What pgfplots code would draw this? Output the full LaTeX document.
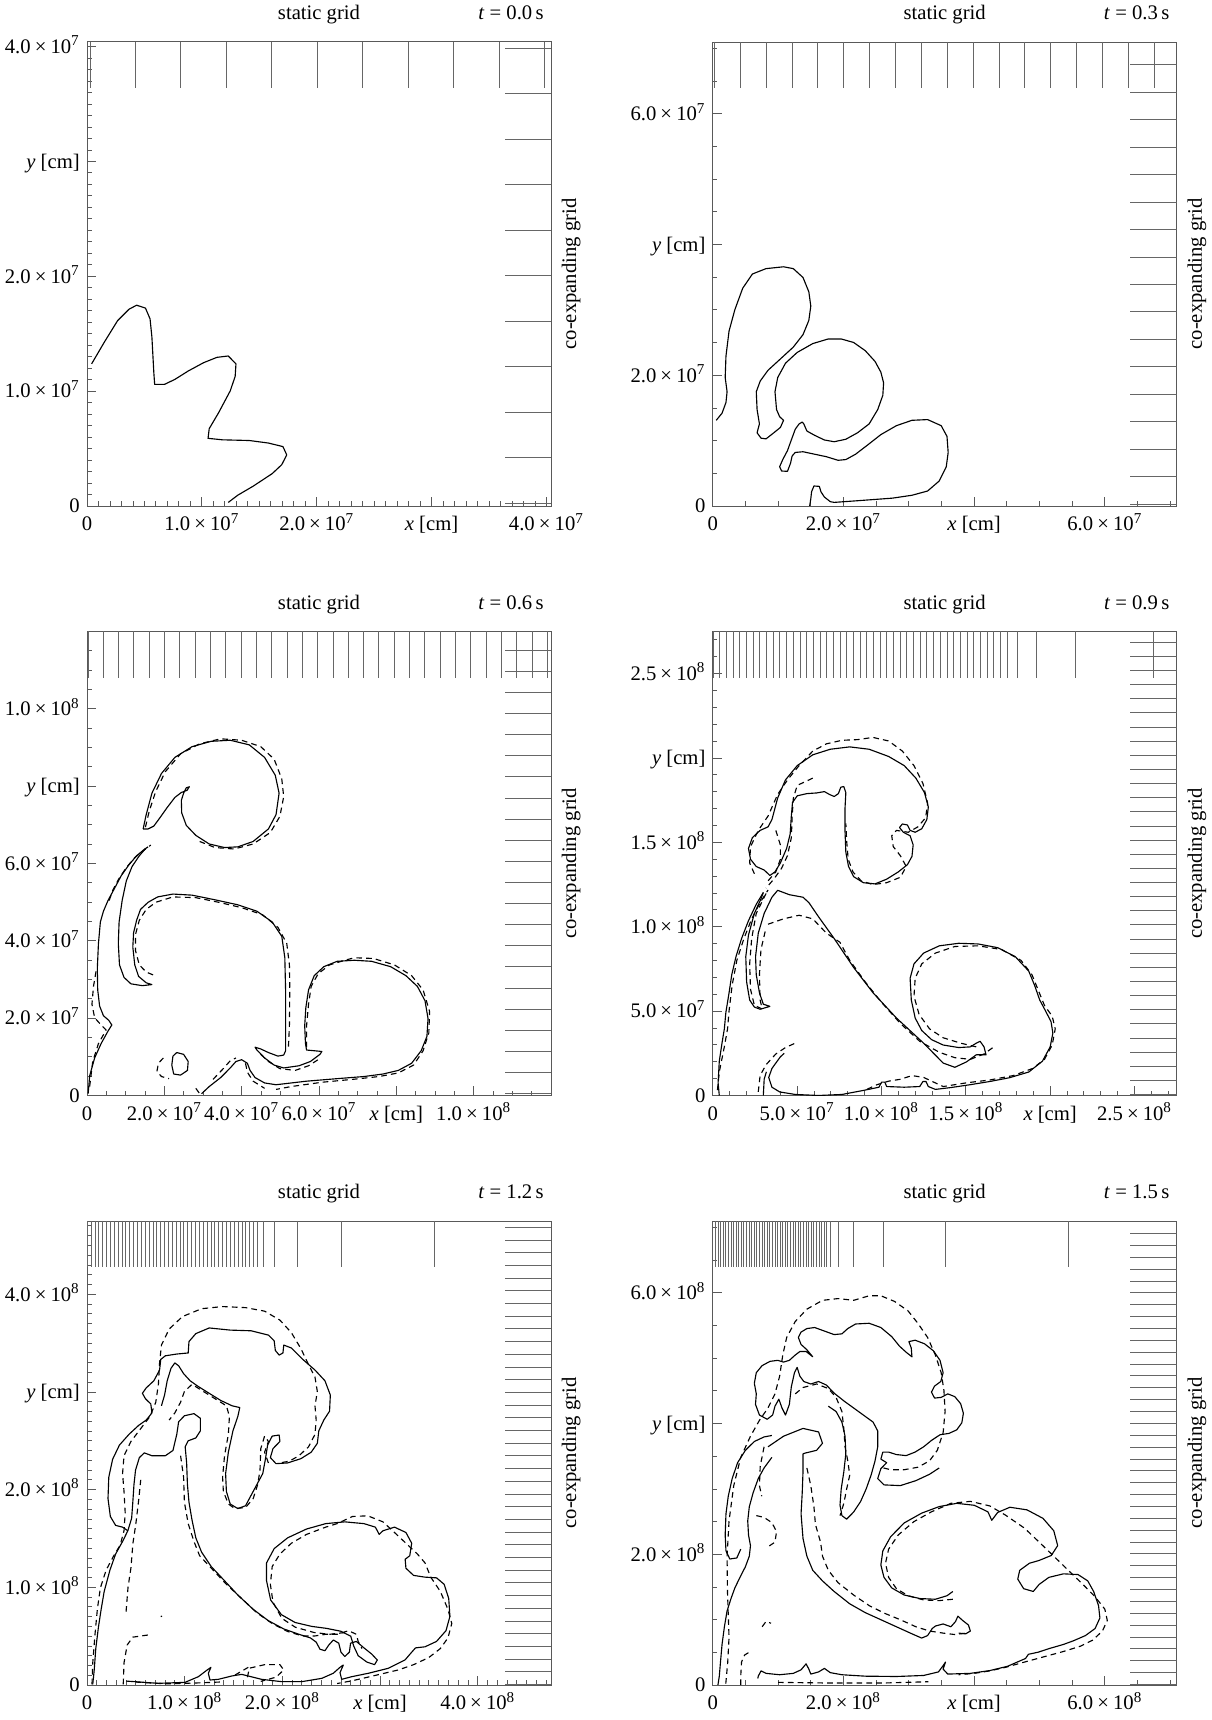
\documentclass[border=0pt,11pt]{standalone}
\usepackage{fontspec}
\setmainfont{Liberation Serif}
\usepackage{pgfplots}
\pgfplotsset{compat=1.18}

% mantissa x 10^exponent, set in the text font
\newcommand{\sci}[2]{#1\kern0.2em×\kern0.2em10\textsuperscript{#2}}

\pgfplotsset{
  panel/.style={
    scale only axis, width=245.92pt, height=245.92pt,
    anchor=south west, xmin=0, ymin=0,
    axis line style={line width=0.5pt, black!65},
    tick align=inside, xtick pos=bottom, ytick pos=left,
    major tick length=5pt, minor tick length=2.5pt,
    tick style={line width=0.45pt, black!65},
    xticklabel style={anchor=base, yshift=-13pt},
    yticklabel style={anchor=base east, yshift=-3.6pt},
  },
  gridline/.style={line width=0.5pt, black!60},
  contour/.style={black, line width=0.6pt, line join=round},
  contourd/.style={contour, dash pattern=on 3pt off 2.2pt},
  heads/.style 2 args={extra description/.code={
      \node[anchor=base, yshift=11.7pt] at (0.5,1) {static grid};
      \node[anchor=base east, yshift=11.7pt] at (1,1) {\textit{t} = #1\,s};
      \node[rotate=90, anchor=north, inner sep=0pt] at ([xshift=5.5pt]1,0.5) {co-expanding grid};
  }},
}

\begin{document}
\begin{tikzpicture}
\path[use as bounding box] (0,0) rectangle (641.83pt,911.6pt);

% ---------------- t = 0.0 s  (coordinates in 10^7 cm)
\begin{axis}[panel, heads={0.0}{}, at={(46.11pt,643.42pt)}, xmax=4.04, ymax=4.04,
  xtick={0,1,2,3,4}, xticklabels={0,\sci{1.0}{7},\sci{2.0}{7},\textit{x} [cm],\sci{4.0}{7}},
  ytick={0,1,2,3,4}, yticklabels={0,\sci{1.0}{7},\sci{2.0}{7},\textit{y} [cm],\sci{4.0}{7}},
  minor xtick={0,0.1,...,4.0}, minor ytick={0,0.1,...,4.0}]
\addplot[gridline, quiver={u=0,v=-0.404}] coordinates {
 (0.026,4.04) (0.422,4.04) (0.818,4.04) (1.214,4.04) (1.610,4.04) (2.006,4.04)
 (2.402,4.04) (2.798,4.04) (3.194,4.04) (3.590,4.04) (3.986,4.04)};
\addplot[gridline, quiver={u=-0.404,v=0}] coordinates {
 (4.04,0.026) (4.04,0.422) (4.04,0.818) (4.04,1.214) (4.04,1.610) (4.04,2.006)
 (4.04,2.402) (4.04,2.798) (4.04,3.194) (4.04,3.590) (4.04,3.986)};
\addplot[contour] coordinates {
 (0.040,1.237) (0.150,1.425) (0.266,1.613) (0.366,1.713) (0.432,1.748) (0.509,1.723)
 (0.549,1.629) (0.565,1.472) (0.582,1.159) (0.589,1.059) (0.675,1.059) (0.765,1.102)
 (0.881,1.175) (1.014,1.247) (1.131,1.294) (1.230,1.306) (1.297,1.237) (1.290,1.128)
 (1.247,1.002) (1.147,0.814) (1.064,0.673) (1.054,0.589) (1.180,0.576) (1.413,0.570)
 (1.579,0.548) (1.706,0.517) (1.739,0.445) (1.696,0.360) (1.613,0.282) (1.446,0.172)
 (1.313,0.094) (1.230,0.031)};
\end{axis}

% ---------------- t = 0.3 s  (coordinates in 10^7 cm)
\begin{axis}[panel, heads={0.3}{}, at={(377.73pt,643.42pt)}, xmax=7.1, ymax=7.1,
  xtick={0,2,4,6}, xticklabels={0,\sci{2.0}{7},\textit{x} [cm],\sci{6.0}{7}},
  ytick={0,2,4,6}, yticklabels={0,\sci{2.0}{7},\textit{y} [cm],\sci{6.0}{7}},
  minor xtick={0,0.5,...,7.0}, minor ytick={0,0.5,...,7.0}]
\addplot[gridline, quiver={u=0,v=-0.71}] coordinates {
 (0.026,7.1) (0.422,7.1) (0.818,7.1) (1.214,7.1) (1.610,7.1) (2.006,7.1) (2.402,7.1)
 (2.798,7.1) (3.194,7.1) (3.590,7.1) (3.986,7.1) (4.382,7.1) (4.778,7.1) (5.174,7.1)
 (5.570,7.1) (5.966,7.1) (6.362,7.1) (6.758,7.1)};
\addplot[gridline, quiver={u=-0.71,v=0}] coordinates {
 (7.1,0.03) (7.1,0.45) (7.1,0.87) (7.1,1.29) (7.1,1.71) (7.1,2.13) (7.1,2.55) (7.1,2.97)
 (7.1,3.39) (7.1,3.81) (7.1,4.23) (7.1,4.65) (7.1,5.07) (7.1,5.49) (7.1,5.91) (7.1,6.33) (7.1,6.75)};
\addplot[contour] coordinates {
 (0.054,1.311) (0.143,1.420) (0.203,1.584) (0.220,1.748) (0.191,1.966) (0.203,2.294)
 (0.250,2.676) (0.339,3.004) (0.459,3.332) (0.608,3.550) (0.816,3.632) (1.084,3.660)
 (1.233,3.632) (1.382,3.496) (1.471,3.277) (1.501,3.059) (1.471,2.840) (1.382,2.622)
 (1.233,2.431) (1.024,2.239) (0.846,2.076) (0.727,1.912) (0.667,1.748) (0.679,1.475)
 (0.715,1.256) (0.679,1.120) (0.739,1.038) (0.816,1.027) (0.935,1.120) (1.036,1.202)
 (1.084,1.311) (1.024,1.366) (0.977,1.475) (0.953,1.748) (0.995,1.966) (1.114,2.185)
 (1.292,2.349) (1.531,2.485) (1.769,2.556) (1.965,2.556) (2.156,2.502) (2.335,2.376)
 (2.484,2.212) (2.573,2.048) (2.615,1.884) (2.603,1.693) (2.525,1.475) (2.394,1.256)
 (2.216,1.120) (2.037,1.021) (1.858,0.983) (1.709,1.010) (1.560,1.081) (1.441,1.147)
 (1.394,1.256) (1.370,1.284) (1.322,1.256) (1.263,1.174) (1.203,1.010) (1.144,0.847)
 (1.072,0.710) (1.024,0.601) (1.054,0.535) (1.144,0.530) (1.191,0.655) (1.215,0.765)
 (1.263,0.819) (1.382,0.830) (1.560,0.792) (1.739,0.754) (1.918,0.699) (2.037,0.710)
 (2.186,0.792) (2.365,0.929) (2.573,1.092) (2.811,1.229) (3.049,1.311) (3.288,1.322)
 (3.496,1.229) (3.585,1.065) (3.603,0.819) (3.574,0.601) (3.466,0.382) (3.288,0.229)
 (3.049,0.164) (2.752,0.120) (2.454,0.098) (2.156,0.076) (1.858,0.055) (1.799,0.066)
 (1.709,0.137) (1.656,0.218) (1.632,0.300) (1.549,0.306) (1.513,0.218) (1.501,0.109)
 (1.483,0.000)};
\end{axis}

% ---------------- t = 0.6 s  (coordinates in 10^7 cm)
\begin{axis}[panel, heads={0.6}{}, at={(46.11pt,330.99pt)}, xmax=12, ymax=12,
  xtick={0,2,4,6,8,10}, xticklabels={0,\sci{2.0}{7},\sci{4.0}{7},\sci{6.0}{7},\textit{x} [cm],\sci{1.0}{8}},
  ytick={0,2,4,6,8,10}, yticklabels={0,\sci{2.0}{7},\sci{4.0}{7},\sci{6.0}{7},\textit{y} [cm],\sci{1.0}{8}},
  minor xtick={0,0.5,...,12}, minor ytick={0,0.5,...,12}]
\addplot[gridline, quiver={u=0,v=-1.2}] coordinates {
 (0.026,12) (0.422,12) (0.818,12) (1.214,12) (1.610,12) (2.006,12) (2.402,12) (2.798,12)
 (3.194,12) (3.590,12) (3.986,12) (4.382,12) (4.778,12) (5.174,12) (5.570,12) (5.966,12)
 (6.362,12) (6.758,12) (7.154,12) (7.550,12) (7.946,12) (8.342,12) (8.738,12) (9.134,12)
 (9.530,12) (9.926,12) (10.322,12) (10.718,12) (11.114,12) (11.510,12) (11.906,12)};
\addplot[gridline, quiver={u=-1.2,v=0}] coordinates {
 (12,0.05) (12,0.596) (12,1.142) (12,1.688) (12,2.234) (12,2.78) (12,3.326) (12,3.872)
 (12,4.418) (12,4.964) (12,5.51) (12,6.056) (12,6.602) (12,7.148) (12,7.694) (12,8.24)
 (12,8.786) (12,9.332) (12,9.878) (12,10.424) (12,10.97) (12,11.516)};
% head
\addplot[contour] coordinates {
 (1.452,6.893) (1.531,7.263) (1.679,7.818) (1.926,8.327) (2.272,8.743) (2.716,9.021)
 (3.210,9.159) (3.704,9.187) (4.198,9.067) (4.593,8.743) (4.869,8.281) (4.968,7.818)
 (4.889,7.263) (4.692,6.893) (4.296,6.569) (3.901,6.430) (3.556,6.412) (3.161,6.504)
 (2.815,6.726) (2.568,6.985) (2.449,7.309) (2.440,7.633) (2.499,7.818) (2.568,7.957)
 (2.647,7.984) (2.588,7.892) (2.440,7.836) (2.272,7.707) (2.074,7.448) (1.877,7.170)
 (1.728,6.967) (1.580,6.893) (1.452,6.893)};
\addplot[contourd] coordinates {
 (1.511,6.939) (1.610,7.356) (1.778,7.864) (2.025,8.373) (2.420,8.836) (2.914,9.095)
 (3.457,9.224) (4.000,9.187) (4.494,9.021) (4.840,8.697) (5.037,8.188) (5.087,7.726)
 (4.988,7.217) (4.741,6.800) (4.296,6.504) (3.803,6.374) (3.309,6.412) (2.914,6.569)};
% outer left boundary
\addplot[contour] coordinates {
 (0.030,0.046) (0.069,0.509) (0.198,0.971) (0.365,1.342) (0.543,1.665) (0.642,1.823)
 (0.563,1.943) (0.425,2.063) (0.326,2.313) (0.277,2.729) (0.267,3.284) (0.296,3.932)
 (0.346,4.487) (0.425,4.765) (0.543,5.042) (0.642,5.227) (0.741,5.412) (0.889,5.690)
 (1.086,5.968) (1.284,6.199) (1.482,6.365) (1.580,6.430)};
\addplot[contourd] coordinates {
 (0.069,0.231) (0.148,0.879) (0.296,1.342) (0.494,1.693) (0.365,1.823) (0.198,2.008)
 (0.128,2.359) (0.168,2.822) (0.247,3.284)};
\addplot[contourd] coordinates {
 (0.573,5.042) (0.672,5.320) (0.820,5.597) (1.017,5.893) (1.235,6.153) (1.491,6.356) (1.649,6.476)};
% finger, stem, bubble and base
\addplot[contour] coordinates {
 (1.511,6.384) (1.353,6.199) (1.165,5.921) (1.017,5.551) (0.909,5.042) (0.830,4.487)
 (0.810,3.932) (0.840,3.377) (0.958,3.053) (1.136,2.887) (1.432,2.840) (1.679,2.868)
 (1.531,2.914) (1.333,3.081) (1.235,3.377) (1.185,3.840) (1.205,4.210) (1.284,4.533)
 (1.383,4.811) (1.580,4.996) (1.827,5.135) (2.222,5.209) (2.716,5.181) (3.309,5.061)
 (3.901,4.931) (4.395,4.765) (4.790,4.487) (5.037,4.117) (5.116,3.562) (5.136,2.729)
 (5.136,1.804) (5.136,1.157) (5.087,1.045) (4.938,1.018) (4.692,1.110) (4.494,1.203)
 (4.346,1.249) (4.395,1.175) (4.593,0.971) (4.840,0.786) (5.087,0.712) (5.482,0.768)
 (5.778,0.879) (6.025,1.064) (6.074,1.138) (5.877,1.157) (5.679,1.175) (5.650,1.342)
 (5.630,1.804) (5.659,2.267) (5.729,2.729) (5.877,3.099) (6.124,3.331) (6.469,3.470)
 (6.914,3.497) (7.358,3.470) (7.852,3.331) (8.247,3.099) (8.544,2.822) (8.741,2.452)
 (8.820,1.989) (8.791,1.527) (8.642,1.157) (8.395,0.833) (8.050,0.648) (7.655,0.555)
 (7.161,0.490) (6.469,0.435) (5.679,0.370) (4.889,0.278) (4.593,0.324) (4.346,0.463)
 (4.217,0.648) (4.148,0.833) (4.000,0.925) (3.852,0.879) (3.704,0.712) (3.457,0.463)
 (3.161,0.231) (2.963,0.046)};
\addplot[contourd] coordinates {
 (1.709,3.118) (1.531,3.192) (1.353,3.377) (1.254,3.747) (1.254,4.163) (1.353,4.533)
 (1.531,4.811) (1.778,4.996) (2.222,5.135) (2.815,5.116) (3.408,4.996) (4.000,4.857)
 (4.543,4.672) (4.938,4.348) (5.166,3.932) (5.235,3.377) (5.245,2.729) (5.235,1.804) (5.205,1.157)};
\addplot[contourd] coordinates {
 (4.494,1.064) (4.692,0.879) (4.988,0.694) (5.383,0.648) (5.729,0.768) (5.976,0.925)};
\addplot[contourd] coordinates {
 (5.679,1.249) (5.679,1.804) (5.729,2.359) (5.798,2.822) (5.976,3.146) (6.272,3.377)
 (6.667,3.497) (6.914,3.562) (7.408,3.543) (7.951,3.377) (8.395,3.099) (8.692,2.729)
 (8.860,2.174) (8.840,1.619) (8.692,1.157) (8.445,0.786) (8.050,0.583) (7.556,0.490)
 (6.864,0.416) (6.074,0.342) (5.284,0.231) (4.889,0.157)};
\addplot[contourd] coordinates {(2.815,0.185) (2.914,0.046)};
\addplot[contourd] coordinates {(3.259,0.416) (3.506,0.675) (3.704,0.897) (3.852,0.971)};
\addplot[contourd] coordinates {(4.099,0.833) (4.148,0.601) (4.296,0.370) (4.593,0.185)};
% small blob
\addplot[contour] coordinates {
 (2.321,1.110) (2.499,1.064) (2.617,0.879) (2.598,0.648) (2.420,0.527) (2.242,0.555)
 (2.193,0.786) (2.222,1.018) (2.321,1.110)};
\addplot[contourd] coordinates {
 (1.975,0.971) (1.847,0.833) (1.808,0.620) (1.926,0.490) (2.123,0.435)};
\end{axis}

% ---------------- t = 0.9 s  (coordinates in 10^8 cm)
\begin{axis}[panel, heads={0.9}{}, at={(377.73pt,330.99pt)}, xmax=2.75, ymax=2.75,
  xtick={0,0.5,1,1.5,2,2.5}, xticklabels={0,\sci{5.0}{7},\sci{1.0}{8},\sci{1.5}{8},\textit{x} [cm],\sci{2.5}{8}},
  ytick={0,0.5,1,1.5,2,2.5}, yticklabels={0,\sci{5.0}{7},\sci{1.0}{8},\sci{1.5}{8},\textit{y} [cm],\sci{2.5}{8}},
  minor xtick={0,0.1,...,2.7}, minor ytick={0,0.1,...,2.7}]
\addplot[gridline, quiver={u=0,v=-0.275}] coordinates {
 (0.0026,2.75) (0.0422,2.75) (0.0818,2.75) (0.1214,2.75) (0.1610,2.75) (0.2006,2.75)
 (0.2402,2.75) (0.2798,2.75) (0.3194,2.75) (0.3590,2.75) (0.3986,2.75) (0.4382,2.75)
 (0.4778,2.75) (0.5174,2.75) (0.5570,2.75) (0.5966,2.75) (0.6362,2.75) (0.6758,2.75)
 (0.7154,2.75) (0.7550,2.75) (0.7946,2.75) (0.8342,2.75) (0.8738,2.75) (0.9134,2.75)
 (0.9530,2.75) (0.9926,2.75) (1.0322,2.75) (1.0718,2.75) (1.1114,2.75) (1.1510,2.75)
 (1.1906,2.75) (1.2302,2.75) (1.2698,2.75) (1.3094,2.75) (1.3490,2.75) (1.3886,2.75)
 (1.4282,2.75) (1.4678,2.75) (1.5074,2.75) (1.5470,2.75) (1.5866,2.75) (1.6262,2.75)
 (1.6658,2.75) (1.7054,2.75) (1.7450,2.75) (1.805,2.75) (1.92,2.75) (2.15,2.75) (2.61,2.75)};
\addplot[gridline, quiver={u=-0.275,v=0}] coordinates {
 (2.75,0.005) (2.75,0.0888) (2.75,0.1726) (2.75,0.2564) (2.75,0.3402) (2.75,0.424)
 (2.75,0.5078) (2.75,0.5916) (2.75,0.6754) (2.75,0.7592) (2.75,0.843) (2.75,0.9268)
 (2.75,1.0106) (2.75,1.0944) (2.75,1.1782) (2.75,1.262) (2.75,1.3458) (2.75,1.4296)
 (2.75,1.5134) (2.75,1.5972) (2.75,1.681) (2.75,1.7648) (2.75,1.8486) (2.75,1.9324)
 (2.75,2.0162) (2.75,2.1) (2.75,2.1838) (2.75,2.2676) (2.75,2.3514) (2.75,2.4352)
 (2.75,2.519) (2.75,2.6028) (2.75,2.6866)};
% head
\addplot[contour] coordinates {
 (0.305,1.336) (0.258,1.357) (0.224,1.400) (0.212,1.464) (0.235,1.528) (0.281,1.571)
 (0.328,1.592) (0.351,1.635) (0.385,1.763) (0.431,1.870) (0.501,1.955) (0.593,2.019)
 (0.697,2.052) (0.812,2.066) (0.927,2.052) (1.043,2.009) (1.135,1.955) (1.204,1.881)
 (1.255,1.795) (1.278,1.710) (1.269,1.635) (1.239,1.581) (1.200,1.560) (1.170,1.571)
 (1.154,1.603) (1.124,1.609) (1.107,1.588) (1.130,1.560) (1.170,1.539) (1.188,1.485)
 (1.181,1.417) (1.154,1.368) (1.100,1.325) (1.031,1.282) (0.962,1.254) (0.893,1.261)
 (0.835,1.297) (0.805,1.357) (0.789,1.442) (0.784,1.571) (0.784,1.699) (0.789,1.795)
 (0.777,1.831) (0.759,1.827) (0.745,1.789) (0.720,1.772) (0.692,1.784) (0.662,1.801)
 (0.616,1.793) (0.558,1.789) (0.501,1.776) (0.473,1.737) (0.466,1.656) (0.459,1.549)
 (0.438,1.464) (0.401,1.378) (0.369,1.325) (0.339,1.304) (0.305,1.336)};
\addplot[contourd] coordinates {
 (0.247,1.314) (0.219,1.378) (0.224,1.474) (0.270,1.571) (0.328,1.656) (0.385,1.784)
 (0.443,1.870) (0.512,1.955) (0.593,2.041) (0.674,2.084) (0.766,2.105) (0.858,2.109)
 (0.950,2.122) (1.043,2.101) (1.124,2.041) (1.193,1.955) (1.246,1.849) (1.274,1.731)
 (1.262,1.646) (1.216,1.592) (1.159,1.560) (1.089,1.571) (1.061,1.539) (1.070,1.475)
 (1.112,1.421) (1.147,1.357) (1.112,1.293) (1.031,1.261) (0.950,1.250) (0.881,1.271)
 (0.831,1.325) (0.803,1.400) (0.794,1.506) (0.789,1.613)};
\addplot[contourd] coordinates {
 (0.593,1.881) (0.547,1.859) (0.501,1.838) (0.478,1.763) (0.471,1.656) (0.466,1.528)
 (0.443,1.421) (0.408,1.346) (0.362,1.282) (0.316,1.229)};
\addplot[contourd] coordinates {
 (0.374,1.571) (0.401,1.485) (0.401,1.400) (0.374,1.325) (0.328,1.272)};
% left boundary
\addplot[contour] coordinates {
 (0.039,0.000) (0.032,0.075) (0.039,0.203) (0.055,0.310) (0.069,0.395) (0.078,0.492)
 (0.097,0.609) (0.113,0.716) (0.138,0.823) (0.171,0.930) (0.212,1.036) (0.258,1.133) (0.300,1.203)};
\addplot[contourd] coordinates {
 (0.028,0.032) (0.039,0.139) (0.069,0.289) (0.088,0.395) (0.097,0.502) (0.115,0.652)
 (0.143,0.801) (0.185,0.930) (0.231,1.047) (0.281,1.143) (0.328,1.218)};
% finger, triangle, bubble and base
\addplot[contour] coordinates {
 (0.300,1.203) (0.286,1.165) (0.247,1.079) (0.212,0.951) (0.196,0.823) (0.201,0.673)
 (0.219,0.566) (0.247,0.524) (0.281,0.511) (0.339,0.528) (0.300,0.541) (0.277,0.609)
 (0.258,0.716) (0.254,0.823) (0.270,0.962) (0.305,1.079) (0.351,1.175) (0.385,1.216)
 (0.454,1.190) (0.535,1.175) (0.570,1.143) (0.628,1.058) (0.720,0.930) (0.835,0.759)
 (0.950,0.609) (1.089,0.459) (1.250,0.310) (1.366,0.192) (1.435,0.167) (1.504,0.199)
 (1.562,0.241) (1.620,0.241) (1.608,0.288) (1.585,0.321) (1.562,0.310) (1.527,0.288)
 (1.458,0.284) (1.366,0.299) (1.297,0.331) (1.239,0.385) (1.200,0.459) (1.177,0.566)
 (1.170,0.695) (1.193,0.780) (1.250,0.844) (1.343,0.887) (1.458,0.902) (1.573,0.898)
 (1.689,0.876) (1.793,0.823) (1.873,0.737) (1.908,0.652) (1.938,0.566) (1.972,0.502)
 (2.005,0.438) (2.016,0.370) (2.000,0.288) (1.954,0.203) (1.873,0.139) (1.758,0.105)
 (1.643,0.083) (1.527,0.064) (1.412,0.047) (1.320,0.036) (1.278,0.053) (1.264,0.083)
 (1.246,0.083) (1.227,0.053) (1.135,0.049) (1.031,0.053) (1.020,0.079) (1.001,0.079)
 (0.985,0.049) (0.904,0.032) (0.766,0.006) (0.628,0.000) (0.489,0.006) (0.397,0.021)
 (0.351,0.049) (0.332,0.107) (0.351,0.160) (0.374,0.192) (0.401,0.229) (0.424,0.250)};
\addplot[contour] coordinates {(0.300,0.000) (0.305,0.096) (0.318,0.140)};
\addplot[contourd] coordinates {
 (0.316,1.197) (0.258,1.079) (0.231,0.930) (0.219,0.780) (0.224,0.630) (0.247,0.534)
 (0.293,0.513) (0.281,0.566) (0.277,0.716) (0.286,0.865) (0.316,0.994)};
\addplot[contourd] coordinates {
 (0.328,1.015) (0.420,1.047) (0.512,1.068) (0.593,1.047) (0.674,0.962) (0.754,0.908)
 (0.812,0.801) (0.904,0.673) (0.997,0.556) (1.112,0.427) (1.227,0.321) (1.343,0.256)
 (1.435,0.224) (1.527,0.214) (1.608,0.246) (1.666,0.288)};
\addplot[contourd] coordinates {
 (1.562,0.288) (1.470,0.310) (1.366,0.342) (1.285,0.395) (1.223,0.481) (1.193,0.588)
 (1.200,0.695) (1.239,0.780) (1.320,0.844) (1.435,0.883) (1.573,0.887) (1.712,0.865)
 (1.827,0.801) (1.892,0.716) (1.931,0.620) (1.966,0.534) (2.012,0.470) (2.030,0.395)
 (2.012,0.299) (1.966,0.214) (1.896,0.160) (1.781,0.118) (1.643,0.092) (1.504,0.075)
 (1.366,0.053) (1.297,0.085) (1.250,0.107) (1.181,0.118) (1.112,0.096) (1.043,0.085)
 (0.974,0.064) (0.904,0.032)};
\addplot[contourd] coordinates {
 (0.270,0.021) (0.281,0.118) (0.316,0.182) (0.374,0.246) (0.431,0.284) (0.489,0.310)};
\end{axis}

% ---------------- t = 1.2 s  (coordinates in 10^8 cm)
\begin{axis}[panel, heads={1.2}{}, at={(46.11pt,18.55pt)}, xmax=4.75, ymax=4.75,
  xtick={0,1,2,3,4}, xticklabels={0,\sci{1.0}{8},\sci{2.0}{8},\textit{x} [cm],\sci{4.0}{8}},
  ytick={0,1,2,3,4}, yticklabels={0,\sci{1.0}{8},\sci{2.0}{8},\textit{y} [cm],\sci{4.0}{8}},
  minor xtick={0,0.1,...,4.7}, minor ytick={0,0.1,...,4.7}]
\addplot[gridline, quiver={u=0,v=-0.475}] coordinates {
 (0.0026,4.75) (0.0422,4.75) (0.0818,4.75) (0.1214,4.75) (0.1610,4.75) (0.2006,4.75)
 (0.2402,4.75) (0.2798,4.75) (0.3194,4.75) (0.3590,4.75) (0.3986,4.75) (0.4382,4.75)
 (0.4778,4.75) (0.5174,4.75) (0.5570,4.75) (0.5966,4.75) (0.6362,4.75) (0.6758,4.75)
 (0.7154,4.75) (0.7550,4.75) (0.7946,4.75) (0.8342,4.75) (0.8738,4.75) (0.9134,4.75)
 (0.9530,4.75) (0.9926,4.75) (1.0322,4.75) (1.0718,4.75) (1.1114,4.75) (1.1510,4.75)
 (1.1906,4.75) (1.2302,4.75) (1.2698,4.75) (1.3094,4.75) (1.3490,4.75) (1.3886,4.75)
 (1.4282,4.75) (1.4678,4.75) (1.5074,4.75) (1.5470,4.75) (1.5866,4.75) (1.6262,4.75)
 (1.6658,4.75) (1.7054,4.75) (1.7450,4.75) (1.805,4.75) (1.92,4.75) (2.15,4.75) (2.61,4.75) (3.56,4.75)};
\addplot[gridline, quiver={u=-0.475,v=0}] coordinates {
 (4.75,0.005) (4.75,0.135) (4.75,0.265) (4.75,0.395) (4.75,0.525) (4.75,0.655) (4.75,0.785)
 (4.75,0.915) (4.75,1.045) (4.75,1.175) (4.75,1.305) (4.75,1.435) (4.75,1.565) (4.75,1.695)
 (4.75,1.825) (4.75,1.955) (4.75,2.085) (4.75,2.215) (4.75,2.345) (4.75,2.475) (4.75,2.605)
 (4.75,2.735) (4.75,2.865) (4.75,2.995) (4.75,3.125) (4.75,3.255) (4.75,3.385) (4.75,3.515)
 (4.75,3.645) (4.75,3.775) (4.75,3.905) (4.75,4.035) (4.75,4.165) (4.75,4.295) (4.75,4.425)
 (4.75,4.555) (4.75,4.685)};
% left boundary, inner cap, long arm, tail, bubble and base
\addplot[contour] coordinates {
 (0.059,0.007) (0.074,0.154) (0.090,0.373) (0.117,0.592) (0.145,0.775) (0.176,0.958)
 (0.235,1.177) (0.293,1.341) (0.364,1.469) (0.418,1.579) (0.457,1.707) (0.469,1.871)
 (0.481,2.054) (0.497,2.200) (0.536,2.328) (0.587,2.376) (0.665,2.347) (0.802,2.347)
 (0.880,2.401) (0.919,2.566) (0.938,2.694) (0.997,2.756) (1.095,2.778) (1.161,2.730)
 (1.161,2.602) (1.114,2.529) (1.036,2.500) (1.005,2.438) (1.020,2.273) (1.028,2.054)
 (1.044,1.871) (1.075,1.689) (1.114,1.506) (1.173,1.360) (1.271,1.213) (1.408,1.067)
 (1.544,0.921) (1.701,0.775) (1.857,0.658) (2.014,0.574) (2.170,0.519) (2.287,0.482)
 (2.346,0.439) (2.385,0.366) (2.436,0.351) (2.475,0.409) (2.522,0.461) (2.577,0.428)
 (2.600,0.336) (2.639,0.292) (2.686,0.336) (2.698,0.428) (2.757,0.446) (2.835,0.380)
 (2.913,0.318) (2.972,0.256) (2.944,0.208) (2.866,0.234) (2.776,0.300) (2.730,0.400)
 (2.700,0.500) (2.600,0.550) (2.450,0.580) (2.300,0.600) (2.130,0.640) (1.990,0.720)
 (1.880,0.870) (1.838,1.067) (1.838,1.250) (1.916,1.396) (2.053,1.506) (2.248,1.597)
 (2.444,1.652) (2.639,1.670) (2.835,1.652) (2.952,1.616) (2.991,1.542) (3.030,1.579)
 (3.148,1.616) (3.265,1.561) (3.324,1.451) (3.304,1.323) (3.257,1.287) (3.265,1.195)
 (3.343,1.122) (3.460,1.104) (3.578,1.097) (3.656,1.031) (3.703,0.885) (3.715,0.702)
 (3.675,0.556) (3.578,0.446) (3.460,0.391) (3.363,0.380) (3.324,0.336) (3.255,0.256)
 (3.084,0.171) (2.880,0.120) (2.710,0.085) (2.607,0.058) (2.590,0.126) (2.624,0.205)
 (2.590,0.181) (2.521,0.120) (2.403,0.068) (2.198,0.034) (1.993,0.034) (1.788,0.058)
 (1.584,0.109) (1.481,0.092) (1.344,0.058) (1.259,0.051) (1.242,0.120) (1.269,0.181)
 (1.225,0.150) (1.140,0.085) (1.003,0.027) (0.730,0.017) (0.491,0.034) (0.400,0.040)};
% left lobe and head
\addplot[contour] coordinates {
 (0.418,1.579) (0.364,1.616) (0.293,1.634) (0.239,1.725) (0.215,1.908) (0.223,2.127)
 (0.262,2.310) (0.332,2.456) (0.430,2.566) (0.528,2.657) (0.606,2.712) (0.665,2.785)
 (0.653,2.877) (0.598,2.931) (0.567,2.986) (0.606,3.041) (0.684,3.114) (0.743,3.224)
 (0.755,3.333) (0.802,3.370) (0.919,3.388) (1.036,3.399) (1.044,3.516) (1.114,3.597)
 (1.251,3.655) (1.466,3.633) (1.681,3.626) (1.857,3.582) (1.916,3.523) (1.928,3.425)
 (1.967,3.377) (2.006,3.399) (2.014,3.480) (2.092,3.450) (2.209,3.333) (2.334,3.224)
 (2.436,3.114) (2.491,2.968) (2.483,2.803) (2.424,2.712) (2.373,2.602) (2.358,2.474)
 (2.295,2.383) (2.190,2.317) (2.053,2.273) (1.935,2.266) (1.877,2.328) (1.904,2.420)
 (1.975,2.493) (1.967,2.559) (1.896,2.548) (1.849,2.456) (1.826,2.310) (1.799,2.164)
 (1.740,2.054) (1.681,1.944) (1.623,1.835) (1.544,1.806) (1.466,1.853) (1.427,1.981)
 (1.419,2.164) (1.447,2.383) (1.494,2.602) (1.544,2.749) (1.564,2.840) (1.486,2.858)
 (1.369,2.913) (1.251,2.986) (1.134,3.059) (1.056,3.114) (0.989,3.187) (0.938,3.268)
 (0.899,3.297) (0.860,3.242) (0.821,3.114) (0.794,2.968) (0.762,2.858)};
\addplot[contour] coordinates {(0.755,0.700) (0.768,0.706)};
% second run
\addplot[contourd] coordinates {
 (0.051,0.007) (0.059,0.227) (0.082,0.519) (0.106,0.775) (0.137,0.994) (0.196,1.177)
 (0.274,1.323) (0.340,1.433) (0.379,1.579) (0.391,1.762) (0.379,1.981) (0.364,2.164)
 (0.379,2.347) (0.450,2.493) (0.547,2.621) (0.645,2.749) (0.704,2.895) (0.731,3.078)
 (0.743,3.297) (0.762,3.480) (0.841,3.644) (0.978,3.772) (1.173,3.852) (1.388,3.874)
 (1.623,3.863) (1.818,3.827) (1.975,3.735) (2.092,3.607) (2.190,3.443) (2.268,3.279)
 (2.334,3.151) (2.358,3.004) (2.334,2.858) (2.346,2.712) (2.334,2.566) (2.268,2.438)
 (2.170,2.347) (2.073,2.292) (1.975,2.273)};
\addplot[contourd] coordinates {
 (1.857,2.273) (1.818,2.383) (1.857,2.493) (1.818,2.548) (1.779,2.420) (1.771,2.200)
 (1.748,2.054) (1.701,1.908) (1.623,1.817) (1.513,1.806) (1.447,1.853) (1.396,1.981)
 (1.388,2.127) (1.408,2.347) (1.447,2.566) (1.458,2.749) (1.427,2.858) (1.310,2.931)
 (1.193,3.004) (1.075,3.078) (0.997,3.004) (0.958,2.895) (0.899,2.785) (0.841,2.712)};
\addplot[contourd] coordinates {
 (0.958,2.347) (0.989,2.127) (0.997,1.871) (1.036,1.652) (1.095,1.469) (1.153,1.323)
 (1.290,1.177) (1.427,1.031) (1.584,0.884) (1.740,0.738) (1.896,0.629) (2.053,0.548)
 (2.209,0.501) (2.326,0.501) (2.444,0.519) (2.561,0.519) (2.678,0.556) (2.757,0.519)
 (2.776,0.446) (2.815,0.373)};
\addplot[contourd] coordinates {
 (2.639,0.537) (2.483,0.519) (2.326,0.537) (2.131,0.592) (1.994,0.683) (1.904,0.848)
 (1.877,1.031) (1.896,1.213) (1.975,1.341) (2.092,1.451) (2.248,1.542) (2.444,1.616)
 (2.561,1.652) (2.717,1.725) (2.874,1.732) (3.030,1.670) (3.148,1.561) (3.265,1.451)
 (3.382,1.341) (3.460,1.250) (3.519,1.104) (3.617,0.958) (3.695,0.775) (3.734,0.629)
 (3.695,0.482) (3.617,0.373) (3.499,0.281) (3.343,0.208) (3.187,0.154) (3.030,0.117)
 (2.874,0.080) (2.717,0.044) (2.561,0.015)};
\addplot[contourd] coordinates {
 (0.400,0.750) (0.420,1.000) (0.450,1.200) (0.470,1.450) (0.500,1.650) (0.530,1.900) (0.550,2.100)};
\addplot[contourd] coordinates {
 (0.371,0.007) (0.379,0.227) (0.411,0.409) (0.469,0.490) (0.626,0.512)};
\addplot[contourd] coordinates {
 (1.642,0.080) (1.662,0.172) (1.818,0.208) (1.975,0.208) (2.014,0.154) (1.935,0.080) (1.779,0.037)};
\addplot[contourd] coordinates {(1.515,0.102) (1.651,0.181)};
\addplot[contourd] coordinates {
 (0.500,0.030) (0.800,0.012) (1.100,0.020) (1.400,0.032)};
\end{axis}

% ---------------- t = 1.5 s  (coordinates in 10^8 cm)
\begin{axis}[panel, heads={1.5}{}, at={(377.73pt,18.55pt)}, xmax=7.1, ymax=7.1,
  xtick={0,2,4,6}, xticklabels={0,\sci{2.0}{8},\textit{x} [cm],\sci{6.0}{8}},
  ytick={0,2,4,6}, yticklabels={0,\sci{2.0}{8},\textit{y} [cm],\sci{6.0}{8}},
  minor xtick={0,0.5,...,7.0}, minor ytick={0,0.5,...,7.0}]
\addplot[gridline, quiver={u=0,v=-0.71}] coordinates {
 (0.0026,7.1) (0.0422,7.1) (0.0818,7.1) (0.1214,7.1) (0.1610,7.1) (0.2006,7.1)
 (0.2402,7.1) (0.2798,7.1) (0.3194,7.1) (0.3590,7.1) (0.3986,7.1) (0.4382,7.1)
 (0.4778,7.1) (0.5174,7.1) (0.5570,7.1) (0.5966,7.1) (0.6362,7.1) (0.6758,7.1)
 (0.7154,7.1) (0.7550,7.1) (0.7946,7.1) (0.8342,7.1) (0.8738,7.1) (0.9134,7.1)
 (0.9530,7.1) (0.9926,7.1) (1.0322,7.1) (1.0718,7.1) (1.1114,7.1) (1.1510,7.1)
 (1.1906,7.1) (1.2302,7.1) (1.2698,7.1) (1.3094,7.1) (1.3490,7.1) (1.3886,7.1)
 (1.4282,7.1) (1.4678,7.1) (1.5074,7.1) (1.5470,7.1) (1.5866,7.1) (1.6262,7.1)
 (1.6658,7.1) (1.7054,7.1) (1.7450,7.1) (1.805,7.1) (1.92,7.1) (2.15,7.1) (2.61,7.1)
 (3.56,7.1) (5.44,7.1)};
\addplot[gridline, quiver={u=-0.71,v=0}] coordinates {
 (7.1,0.008) (7.1,0.190) (7.1,0.371) (7.1,0.553) (7.1,0.734) (7.1,0.916) (7.1,1.098)
 (7.1,1.279) (7.1,1.461) (7.1,1.642) (7.1,1.824) (7.1,2.006) (7.1,2.187) (7.1,2.369)
 (7.1,2.550) (7.1,2.732) (7.1,2.914) (7.1,3.095) (7.1,3.277) (7.1,3.458) (7.1,3.640)
 (7.1,3.822) (7.1,4.003) (7.1,4.185) (7.1,4.366) (7.1,4.548) (7.1,4.730) (7.1,4.911)
 (7.1,5.093) (7.1,5.274) (7.1,5.456) (7.1,5.638) (7.1,5.819) (7.1,6.001) (7.1,6.182)
 (7.1,6.364) (7.1,6.546) (7.1,6.727) (7.1,6.909)};
% head, upper edge
\addplot[contour] coordinates {
 (0.637,4.617) (0.667,4.779) (0.756,4.887) (0.876,4.952) (0.995,4.968) (1.084,4.941)
 (1.173,4.968) (1.263,5.049) (1.334,5.103) (1.429,5.103) (1.531,5.022) (1.441,5.130)
 (1.352,5.211) (1.310,5.319) (1.352,5.400) (1.441,5.454) (1.560,5.470) (1.709,5.416)
 (1.858,5.362) (1.977,5.373) (2.067,5.454) (2.186,5.524) (2.394,5.535) (2.573,5.470)
 (2.740,5.330) (2.859,5.184) (2.960,5.092) (3.049,5.022) (3.038,5.157) (3.002,5.254)
 (3.097,5.276) (3.240,5.222) (3.377,5.114) (3.478,4.968) (3.526,4.779) (3.490,4.644)
 (3.395,4.574) (3.347,4.482) (3.395,4.390) (3.496,4.401) (3.597,4.455) (3.705,4.412)
 (3.794,4.304) (3.836,4.158) (3.812,4.012) (3.734,3.904) (3.615,3.850) (3.478,3.829)
 (3.347,3.742) (3.228,3.645) (3.097,3.564) (2.960,3.510) (2.811,3.526) (2.692,3.564)
 (2.603,3.564) (2.573,3.456) (2.662,3.402) (2.573,3.310) (2.525,3.159) (2.621,3.062)
 (2.871,3.051) (3.109,3.127) (3.317,3.224) (3.466,3.321)};
% head, lower edge and hanging finger
\addplot[contour] coordinates {
 (0.637,4.617) (0.667,4.455) (0.655,4.293) (0.715,4.131) (0.834,4.066) (0.917,4.131)
 (0.953,4.266) (1.012,4.374) (1.060,4.239) (1.114,4.131) (1.173,4.293) (1.203,4.563)
 (1.251,4.779) (1.292,4.860) (1.334,4.725) (1.394,4.644) (1.501,4.606) (1.620,4.644)
 (1.739,4.590) (1.858,4.466) (2.007,4.347) (2.156,4.239) (2.305,4.131) (2.454,4.023)
 (2.525,3.888) (2.525,3.645) (2.484,3.429) (2.424,3.213) (2.347,2.997) (2.263,2.808)
 (2.156,2.646) (2.049,2.538) (1.977,2.592) (1.948,2.754) (1.966,2.997) (2.007,3.267)
 (2.037,3.537) (2.025,3.807) (1.977,4.023) (1.888,4.185) (1.769,4.266)};
% left boundary
\addplot[contour] coordinates {
 (0.080,0.000) (0.101,0.135) (0.119,0.351) (0.143,0.621) (0.179,0.891) (0.220,1.134)
 (0.280,1.323) (0.339,1.485) (0.417,1.647) (0.500,1.809) (0.560,1.971) (0.578,2.133)
 (0.548,2.295) (0.536,2.511) (0.560,2.727) (0.619,2.943) (0.697,3.159) (0.786,3.321) (0.905,3.483)};
\addplot[contour] coordinates {
 (0.429,2.079) (0.369,1.944) (0.262,1.928) (0.203,2.052) (0.191,2.295) (0.203,2.619)
 (0.238,2.889) (0.298,3.159) (0.381,3.402) (0.500,3.591) (0.637,3.726) (0.786,3.796) (0.905,3.818)};
% inner cap, long arm and tail
\addplot[contour] coordinates {
 (0.846,3.645) (1.084,3.807) (1.382,3.926) (1.620,3.872) (1.680,3.699) (1.590,3.591)
 (1.412,3.548) (1.382,3.537) (1.382,3.267) (1.370,2.943) (1.352,2.619) (1.382,2.241)
 (1.441,1.971) (1.531,1.755) (1.680,1.593) (1.858,1.431) (2.097,1.242) (2.335,1.107)
 (2.573,0.999) (2.811,0.891) (3.049,0.783) (3.198,0.718) (3.288,0.756) (3.359,0.864)
 (3.407,0.902) (3.526,0.934) (3.645,0.891) (3.716,0.972) (3.752,1.053) (3.824,0.988)
 (3.913,0.918) (3.943,0.826) (3.871,0.783) (3.764,0.794)};
% bubble and base
\addplot[contour] coordinates {
 (3.675,1.431) (3.585,1.366) (3.407,1.312) (3.169,1.323) (2.930,1.377) (2.740,1.485)
 (2.621,1.647) (2.573,1.836) (2.603,2.052) (2.722,2.268) (2.930,2.480) (3.198,2.630)
 (3.466,2.730) (3.734,2.780) (4.002,2.750) (4.211,2.650) (4.270,2.520) (4.360,2.640)
 (4.548,2.720) (4.809,2.680) (5.054,2.550) (5.219,2.360) (5.279,2.133) (5.181,1.982)
 (4.995,1.906) (4.846,1.863) (4.698,1.755) (4.668,1.620) (4.758,1.474) (4.905,1.431)
 (4.995,1.539) (5.144,1.647) (5.368,1.701) (5.590,1.690) (5.739,1.593) (5.829,1.431)
 (5.904,1.215) (5.925,1.026) (5.851,0.864) (5.703,0.756) (5.516,0.675) (5.368,0.621)
 (5.144,0.556) (4.980,0.502) (4.831,0.470) (4.786,0.405) (4.711,0.373) (4.511,0.286)
 (4.241,0.221) (3.943,0.178) (3.597,0.167) (3.526,0.243) (3.562,0.351) (3.526,0.297)
 (3.454,0.200) (3.228,0.146) (2.811,0.130) (2.335,0.135) (1.977,0.157) (1.799,0.189)
 (1.709,0.254) (1.620,0.200) (1.501,0.167) (1.471,0.243) (1.429,0.324) (1.352,0.232)
 (1.233,0.178) (1.024,0.157) (0.816,0.178) (0.739,0.216) (0.697,0.135) (0.690,0.100)};
% second run
\addplot[contourd] coordinates {
 (0.200,0.020) (0.230,0.350) (0.250,0.729) (0.226,1.431) (0.220,1.971) (0.250,2.511)
 (0.322,3.051) (0.429,3.483) (0.578,3.807) (0.715,4.050) (0.846,4.239) (0.953,4.455)
 (1.024,4.725) (1.072,5.049) (1.132,5.319) (1.263,5.562) (1.441,5.751) (1.680,5.886)
 (1.918,5.913) (2.156,5.886) (2.394,5.956) (2.573,5.956) (2.781,5.870) (2.990,5.724)
 (3.139,5.535) (3.288,5.319) (3.407,5.049) (3.496,4.779) (3.538,4.509) (3.556,4.185)
 (3.526,3.861) (3.437,3.591) (3.317,3.429) (3.139,3.332) (2.930,3.294) (2.722,3.294) (2.573,3.332)};
\addplot[contourd] coordinates {
 (1.263,4.455) (1.382,4.552) (1.590,4.606) (1.769,4.536) (1.888,4.401) (1.977,4.185)
 (2.007,3.915) (2.025,3.645) (2.067,3.429) (2.097,3.213) (2.049,2.997) (2.007,2.781) (1.948,2.592)};
\addplot[contourd] coordinates {
 (1.441,3.321) (1.501,3.051) (1.549,2.727) (1.572,2.457) (1.650,2.187) (1.680,1.971)
 (1.769,1.755) (1.918,1.566) (2.156,1.377) (2.394,1.215) (2.633,1.096) (2.871,0.999)
 (3.109,0.891) (3.317,0.826) (3.526,0.794) (3.705,0.772) (3.883,0.794)};
\addplot[contourd] coordinates {
 (3.675,1.312) (3.466,1.291) (3.228,1.301) (2.990,1.366) (2.811,1.474) (2.692,1.647)
 (2.644,1.863) (2.692,2.079) (2.841,2.298) (3.079,2.500) (3.347,2.650) (3.645,2.780)
 (3.943,2.810) (4.241,2.740) (4.479,2.600) (4.771,2.400) (4.995,2.187) (5.219,1.971)
 (5.441,1.755) (5.665,1.539) (5.851,1.350) (6.000,1.161) (6.038,0.988) (5.963,0.826)
 (5.814,0.686) (5.628,0.594) (5.368,0.513) (5.069,0.432) (4.771,0.351) (4.479,0.270)
 (4.241,0.216) (4.002,0.178) (3.764,0.157)};
\addplot[contourd] coordinates {
 (0.786,3.645) (0.727,3.348) (0.715,3.051) (0.750,2.889)};
\addplot[contourd] coordinates {
 (0.667,2.592) (0.786,2.565) (0.905,2.484) (0.977,2.349) (0.953,2.187) (0.858,2.122)};
\addplot[contourd] coordinates {
 (0.429,0.000) (0.429,0.135) (0.441,0.351) (0.488,0.459) (0.578,0.513)};
\addplot[contourd] coordinates {(0.756,0.891) (0.816,0.972) (0.893,0.945)};
\addplot[contourd] coordinates {(1.000,0.040) (1.800,0.030) (2.600,0.030) (3.300,0.050)};
\end{axis}
\end{tikzpicture}
\end{document}
